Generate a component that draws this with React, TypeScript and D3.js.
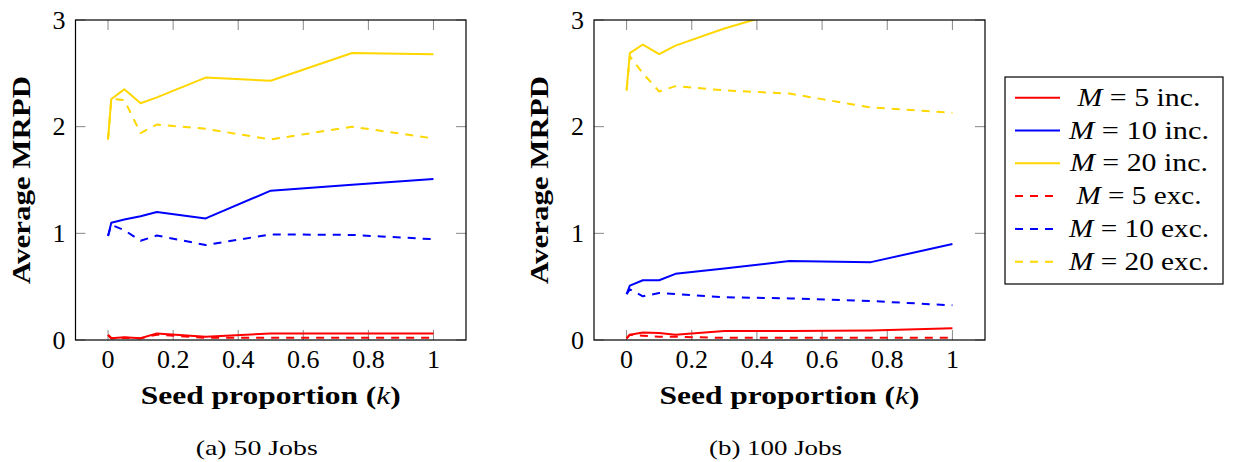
import React from "react";
import * as d3 from "d3";

// ---------- data ----------
const seedK = [0, 0.01, 0.05, 0.1, 0.15, 0.3, 0.5, 0.75, 1];
const xTicks = [0, 0.2, 0.4, 0.6, 0.8, 1];
const yTicks = [0, 1, 2, 3];

// 50 jobs
const a_m5_inc = [0.047, 0.016, 0.025, 0.016, 0.062, 0.03, 0.062, 0.062, 0.062];
const a_m10_inc = [0.975, 1.1, 1.13, 1.16, 1.2, 1.14, 1.4, 1.455, 1.51];
const a_m20_inc = [1.88, 2.26, 2.35, 2.22, 2.275, 2.46, 2.43, 2.69, 2.68];
const a_m5_exc = [0.047, 0.016, 0.02, 0.016, 0.05, 0.02, 0.02, 0.02, 0.02];
const a_m10_exc = [0.975, 1.08, 1.03, 0.93, 0.98, 0.89, 0.99, 0.985, 0.945];
const a_m20_exc = [1.88, 2.26, 2.25, 1.94, 2.02, 1.98, 1.88, 2.0, 1.89];

// 100 jobs
const b_m5_inc = [0.015, 0.05, 0.07, 0.065, 0.05, 0.085, 0.085, 0.09, 0.11];
const b_m10_inc = [0.43, 0.51, 0.56, 0.56, 0.62, 0.67, 0.74, 0.73, 0.9];
const b_m20_inc = [2.34, 2.69, 2.77, 2.68, 2.76, 2.92, 3.1, 3.3, 3.4];
const b_m5_exc = [0.015, 0.05, 0.04, 0.03, 0.03, 0.02, 0.02, 0.02, 0.02];
const b_m10_exc = [0.43, 0.475, 0.41, 0.44, 0.43, 0.4, 0.39, 0.365, 0.325];
const b_m20_exc = [2.34, 2.66, 2.5, 2.33, 2.38, 2.34, 2.31, 2.18, 2.13];

const seriesM = ["5", "10", "20", "5", "10", "20"];
const seriesKind = ["inc.", "inc.", "inc.", "exc.", "exc.", "exc."];
const seriesColor = ["#ff0000", "#0000ff", "#ffd700", "#ff0000", "#0000ff", "#ffd700"];
const seriesDashed = [false, false, false, true, true, true];

const panelA = [a_m5_inc, a_m10_inc, a_m20_inc, a_m5_exc, a_m10_exc, a_m20_exc];
const panelB = [b_m5_inc, b_m10_inc, b_m20_inc, b_m5_exc, b_m10_exc, b_m20_exc];
const captions = ["(a) 50 Jobs", "(b) 100 Jobs"];

// ---------- layout ----------
const FONT = '"Liberation Serif", "Times New Roman", "DejaVu Serif", "Noto Serif", serif';
const TOP = 20;
const BOTTOM = 340;
const DASH = "8,7";
const fontStyle = { fontFamily: FONT };
const legendWidths = [123, 140, 138, 125, 140, 140];
const captionWidths = [122, 133];

function Panel({ x0, x1, data, caption, capW, id }: { x0: number; x1: number; data: number[][]; caption: string; capW: number; id: string }) {
  const x = d3.scaleLinear().domain([-0.1, 1.1]).range([x0, x1]);
  const y = d3.scaleLinear().domain([0, 3]).range([BOTTOM, TOP]);
  const line = d3
    .line<number>()
    .x((_, i) => x(seedK[i]))
    .y((d) => y(d));
  const cx = (x0 + x1) / 2;
  return (
    <g>
      <defs>
        <clipPath id={id}>
          <rect x={x0} y={TOP} width={x1 - x0} height={BOTTOM - TOP} />
        </clipPath>
      </defs>
      {xTicks.map((t) => (
        <g key={"xt" + t}>
          <line x1={x(t)} x2={x(t)} y1={BOTTOM} y2={BOTTOM - 10} stroke="#888" strokeWidth={1} />
          <line x1={x(t)} x2={x(t)} y1={TOP} y2={TOP + 10} stroke="#888" strokeWidth={1} />
          <text x={x(t)} y={368} textAnchor="middle" style={fontStyle} fontSize={26} fill="#000">
            {t}
          </text>
        </g>
      ))}
      {yTicks.map((t) => (
        <g key={"yt" + t}>
          <line x1={x0} x2={x0 + 10} y1={y(t)} y2={y(t)} stroke="#888" strokeWidth={1} />
          <line x1={x1} x2={x1 - 10} y1={y(t)} y2={y(t)} stroke="#888" strokeWidth={1} />
          <text x={x0 - 10} y={y(t) + 8.5} textAnchor="end" style={fontStyle} fontSize={26} fill="#000">
            {t}
          </text>
        </g>
      ))}
      <g clipPath={`url(#${id})`}>
        {data.map((s, i) => (
          <path
            key={i}
            d={line(s) || ""}
            fill="none"
            stroke={seriesColor[i]}
            strokeWidth={2}
            strokeDasharray={seriesDashed[i] ? DASH : undefined}
            strokeLinejoin="round"
          />
        ))}
      </g>
      <rect x={x0} y={TOP} width={x1 - x0} height={BOTTOM - TOP} fill="none" stroke="#000" strokeWidth={1.2} />
      <text
        transform={`translate(${x0 - 46},${(TOP + BOTTOM) / 2}) rotate(-90)`}
        textAnchor="middle"
        style={fontStyle}
        fontWeight="bold"
        fontSize={25}
        textLength={208}
        lengthAdjust="spacingAndGlyphs"
        fill="#000"
      >
        Average MRPD
      </text>
      <text x={cx} y={404} textAnchor="middle" style={fontStyle} fontSize={25} fill="#000" textLength={260} lengthAdjust="spacingAndGlyphs">
        <tspan fontWeight="bold">Seed proportion (</tspan>
        <tspan fontStyle="italic">k</tspan>
        <tspan fontWeight="bold">)</tspan>
      </text>
      <text
        x={cx - 14}
        y={455}
        textAnchor="middle"
        style={fontStyle}
        fontSize={21}
        fill="#000"
        textLength={capW}
        lengthAdjust="spacingAndGlyphs"
      >
        {caption}
      </text>
    </g>
  );
}

function Legend() {
  const lx = 1005;
  const ly = 77;
  const rowH = 32.8;
  return (
    <g>
      <rect x={lx} y={ly} width={218} height={207} fill="#fff" stroke="#000" strokeWidth={1.2} />
      {seriesM.map((m, i) => {
        const cy = ly + 20.7 + i * rowH;
        return (
          <g key={i}>
            <line
              x1={1015}
              x2={seriesDashed[i] ? 1056 : 1060}
              y1={cy}
              y2={cy}
              stroke={seriesColor[i]}
              strokeWidth={2}
              strokeDasharray={seriesDashed[i] ? DASH : undefined}
            />
            <text
              x={1139}
              y={cy + 8}
              textAnchor="middle"
              style={fontStyle}
              fontSize={25}
              fill="#000"
              textLength={legendWidths[i]}
              lengthAdjust="spacingAndGlyphs"
            >
              <tspan fontStyle="italic">M</tspan>
              <tspan> = {m} {seriesKind[i]}</tspan>
            </text>
          </g>
        );
      })}
    </g>
  );
}

export default function App() {
  return (
    <svg
      width={1235}
      height={462}
      viewBox="0 0 1235 462"
      style={{ position: "absolute", left: 0, top: 0, background: "#fff" }}
    >
      <rect x={0} y={0} width={1235} height={462} fill="#fff" />
      <Panel x0={75.5} x1={466} data={panelA} caption={captions[0]} capW={captionWidths[0]} id="clipA" />
      <Panel x0={594} x1={985} data={panelB} caption={captions[1]} capW={captionWidths[1]} id="clipB" />
      <Legend />
    </svg>
  );
}
